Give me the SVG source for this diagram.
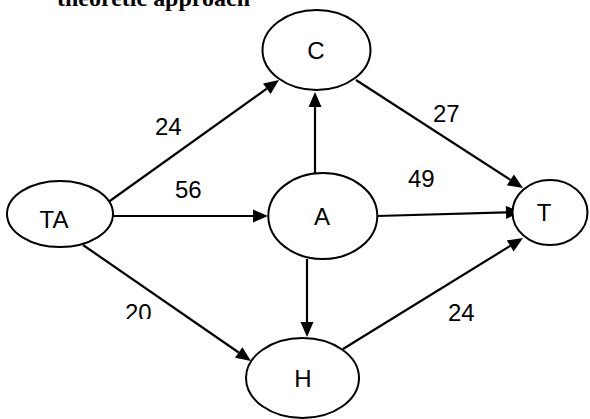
<svg xmlns="http://www.w3.org/2000/svg" width="590" height="419" viewBox="0 0 590 419">
  <style>
    .node ellipse { fill: #ffffff; stroke: #000000; stroke-width: 2; }
    .node text { font-family: "Liberation Sans", Arial, sans-serif; font-size: 24px; fill: #000000; text-anchor: middle; }
    .edge { stroke: #000000; stroke-width: 2.2; fill: none; marker-end: url(#arrow); }
    .weight { font-family: "Liberation Sans", Arial, sans-serif; font-size: 24px; fill: #000000; }
    .title { font-family: "Liberation Serif", "Times New Roman", serif; font-weight: bold; font-size: 23.5px; fill: #000000; }
  </style>
  <defs>
    <marker id="arrow" markerUnits="userSpaceOnUse" markerWidth="16" markerHeight="14" refX="0" refY="7" orient="auto" overflow="visible">
      <path d="M0,0.5 L15,7 L0,13.5 z" fill="#000000"/>
    </marker>
    <clipPath id="cut20">
      <rect x="0" y="0" width="590" height="319"/>
    </clipPath>
  </defs>

  <!-- heading, partly above the top edge -->
  <text class="title" x="57" y="6" textLength="193" lengthAdjust="spacingAndGlyphs">theoretic approach</text>

  <!-- connectors -->
  <g id="edges">
    <line class="edge" x1="107" y1="203" x2="266.8" y2="88.7"/>
    <line class="edge" x1="113" y1="216" x2="253" y2="216"/>
    <line class="edge" x1="83" y1="245" x2="238.7" y2="352.5"/>
    <line class="edge" x1="315" y1="173" x2="315" y2="107"/>
    <line class="edge" x1="307" y1="259" x2="307" y2="322"/>
    <line class="edge" x1="377" y1="216" x2="506" y2="212.4"/>
    <line class="edge" x1="356" y1="80" x2="510.4" y2="179.9"/>
    <line class="edge" x1="343" y1="349" x2="510.2" y2="245.9"/>
  </g>

  <!-- edge weights -->
  <g id="weights">
    <text class="weight" x="155" y="135">24</text>
    <text class="weight" x="175" y="198">56</text>
    <text class="weight" x="433" y="122">27</text>
    <text class="weight" x="408" y="187">49</text>
    <text class="weight" x="125" y="321" clip-path="url(#cut20)">20</text>
    <text class="weight" x="448" y="321">24</text>
  </g>

  <!-- nodes -->
  <g id="node-C" class="node">
    <ellipse cx="316.5" cy="50" rx="54" ry="40"/>
    <text x="316" y="59">C</text>
  </g>
  <g id="node-TA" class="node">
    <ellipse cx="60" cy="214" rx="53" ry="33"/>
    <text x="54" y="228">TA</text>
  </g>
  <g id="node-A" class="node">
    <ellipse cx="322.8" cy="216" rx="54.5" ry="43"/>
    <text x="322" y="225">A</text>
  </g>
  <g id="node-T" class="node">
    <ellipse cx="550" cy="212.5" rx="37.5" ry="32.5"/>
    <text x="544" y="221">T</text>
  </g>
  <g id="node-H" class="node">
    <ellipse cx="302.5" cy="378" rx="56.5" ry="40"/>
    <text x="303" y="387">H</text>
  </g>
</svg>
